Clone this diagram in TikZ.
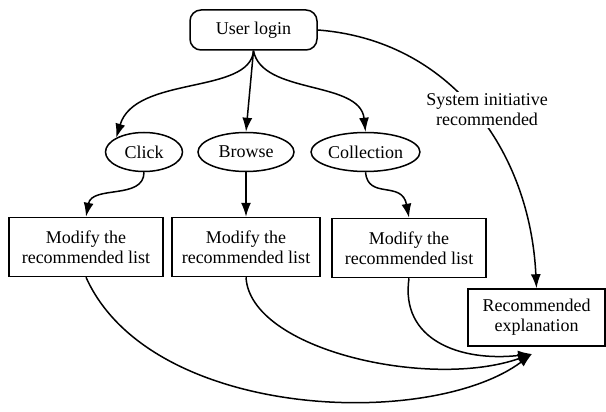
\documentclass[tikz,border=0pt]{standalone}
\usepackage{fontspec}
\setmainfont{Liberation Serif}
\usetikzlibrary{arrows.meta,shapes.geometric}
\begin{document}
\begin{tikzpicture}[x=1pt,y=-1pt,
  every node/.style={font=\fontsize{18}{20}\selectfont, align=center, inner sep=1pt},
  startbox/.style={draw, line width=1.5pt, rounded corners=11pt, minimum width=127pt, minimum height=40pt},
  actell/.style={draw, ellipse, line width=1.5pt, minimum height=39pt},
  listbox/.style={draw, line width=1.5pt, minimum width=154pt, minimum height=59pt},
  conn/.style={line width=1.5pt, -{Latex[length=14pt,width=10pt]}},
  lbl/.style={fill=white, inner sep=2pt}]
\useasboundingbox (0,0) rectangle (606,412);
\node[startbox] (login) at (253.5,30) {User login};
\node[actell, minimum width=77pt] (click) at (144,152) {Click};
\node[actell, minimum width=96pt] (browse) at (246,152) {Browse};
\node[actell, minimum width=107pt] (coll) at (365.5,152) {Collection};
\node[listbox] (l1) at (86,247) {Modify the\\recommended list};
\node[listbox, minimum width=148pt] (l2) at (246,247) {Modify the\\recommended list};
\node[listbox] (l3) at (409,248) {Modify the\\recommended list};
\node[draw, line width=1.5pt, minimum width=137pt, minimum height=57pt] (rexp) at (536.5,317.5) {Recommended\\explanation};
\coordinate (tip) at (532,354);
% from login
\draw[conn] (login.south) .. controls (250,95) and (135,75) .. (click.north west);
\draw[conn] (login.south) -- (browse.north);
\draw[conn] (login.south) .. controls (262,95) and (360,80) .. (coll.north);
% to lists
\draw[conn] (click.south) .. controls (144,200) and (92,185) .. (l1.north);
\draw[conn] (browse.south) -- (l2.north);
\draw[conn] (coll.south) .. controls (368,200) and (402,180) .. (l3.north);
% system initiative
\draw[conn] (login.east) .. controls (450,40) and (530,150) .. (rexp.north);
\node[lbl] (sys) at (487,110) {System initiative\\recommended};
% lists to explanation
\draw[conn] (l1.south) .. controls (150,420) and (430,430) .. (tip);
\draw[conn] (l2.south) .. controls (250,350) and (430,390) .. (tip);
\draw[conn] (l3.south) .. controls (400,340) and (460,362) .. (tip);
\end{tikzpicture}
\end{document}
